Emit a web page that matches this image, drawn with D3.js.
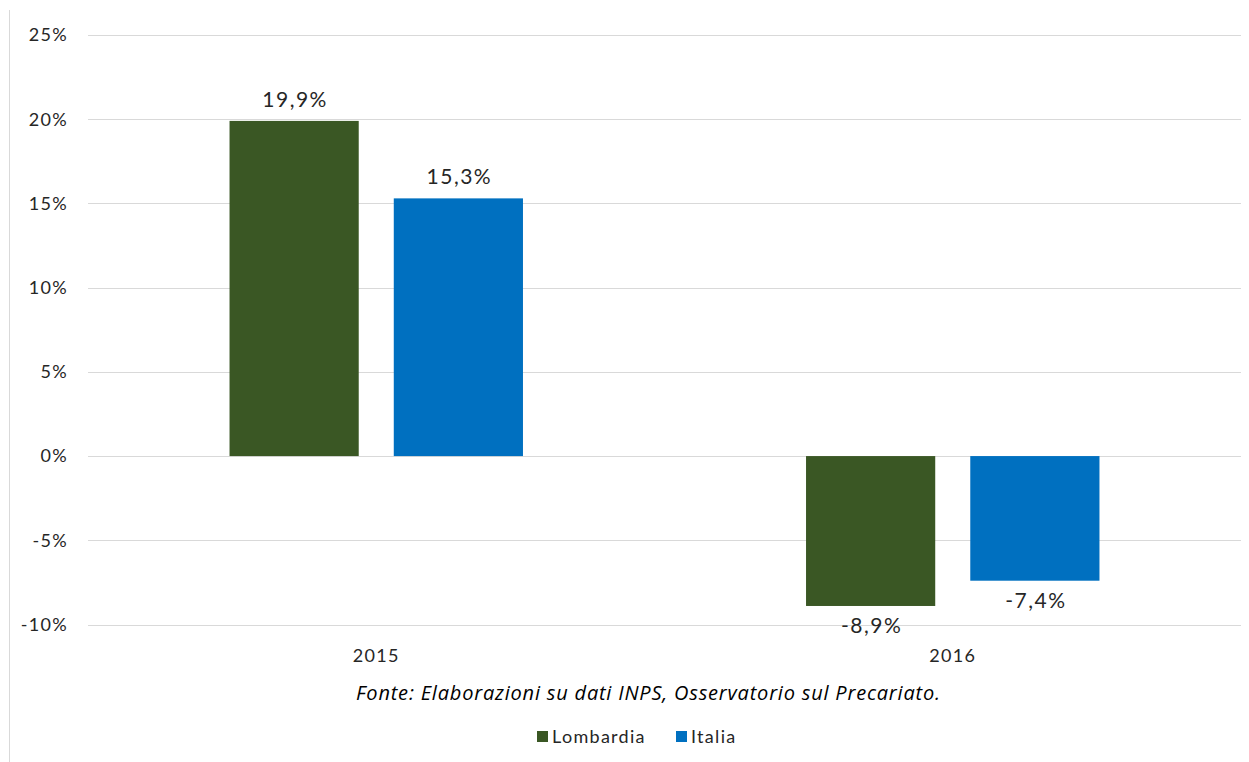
<!DOCTYPE html>
<html>
<head>
<meta charset="utf-8">
<script src="https://cdn.jsdelivr.net/npm/d3@7"></script>
<style>
	body { margin: 0; background: #fff; }
	svg { display: block; }
</style>
</head>
<body>
<div id="graph"></div>
<script>
const years = ['2015', '2016'];
const seriesNames = ['Lombardia', 'Italia'];
const lombardia = [19.9, -8.9];
const italia = [15.3, -7.4];
const yTicks = [-10, -5, 0, 5, 10, 15, 20, 25];
const colors = ['#3a5724', '#0070c0'];
const footnote = 'Fonte: Elaborazioni su dati INPS, Osservatorio sul Precariato.';

const svgWidth = 1249;
const svgHeight = 762;
const plot = {left: 88, right: 1241, top: 35, bottom: 624.5};
const font = 'Lato, "Open Sans", sans-serif';

const svg = d3.select('#graph').append('svg')
	.attr('width', svgWidth)
	.attr('height', svgHeight);

// left border of the chart frame
svg.append('line')
	.attr('x1', 9.5).attr('x2', 9.5)
	.attr('y1', 10).attr('y2', svgHeight)
	.style('stroke', '#d9d9d9');

const yScale = d3.scaleLinear()
	.domain([-10, 25])
	.range([plot.bottom, plot.top]);

const x0 = d3.scaleBand()
	.domain(years)
	.range([plot.left, plot.right])
	.paddingInner(0.491)
	.paddingOuter(0.2455);

const x1 = d3.scaleBand()
	.domain(seriesNames)
	.range([0, x0.bandwidth()])
	.paddingInner(0.2134);

// gridlines
svg.append('g').selectAll('line').data(yTicks).enter()
	.append('line')
	.attr('x1', plot.left).attr('x2', plot.right)
	.attr('y1', d => Math.round(yScale(d)) + 0.5)
	.attr('y2', d => Math.round(yScale(d)) + 0.5)
	.style('stroke', '#d9d9d9');

function label(sel, size, spacing) {
	return sel.style('font-family', font)
		.style('font-size', size + 'px')
		.style('letter-spacing', spacing + 'px')
		.style('fill', '#262626');
}

// y labels
const fmt = v => (v + '').replace('.', ',') + '%';
label(svg.append('g').selectAll('text').data(yTicks).enter()
	.append('text')
	.attr('x', 68)
	.attr('y', d => yScale(d))
	.attr('dy', '0.35em')
	.attr('text-anchor', 'end'), 18, 1.3)
	.text(d => d + '%');

const rows = [];
years.forEach((yr, i) => {
	rows.push({year: yr, name: seriesNames[0], value: lombardia[i], color: colors[0]});
	rows.push({year: yr, name: seriesNames[1], value: italia[i], color: colors[1]});
});

svg.append('g').selectAll('rect').data(rows).enter()
	.append('rect')
	.attr('x', d => x0(d.year) + x1(d.name))
	.attr('width', x1.bandwidth())
	.attr('y', d => yScale(Math.max(0, d.value)))
	.attr('height', d => Math.abs(yScale(d.value) - yScale(0)))
	.style('fill', d => d.color);

// value labels
label(svg.append('g').selectAll('text').data(rows).enter()
	.append('text')
	.attr('x', d => x0(d.year) + x1(d.name) + x1.bandwidth() / 2 + 1)
	.attr('y', d => d.value >= 0 ? yScale(d.value) - 14 : yScale(d.value) + 27)
	.attr('text-anchor', 'middle'), 21, 1.5)
	.text(d => fmt(d.value));

// category labels
label(svg.append('g').selectAll('text').data(years).enter()
	.append('text')
	.attr('x', d => x0(d) + x0.bandwidth() / 2)
	.attr('y', 662)
	.attr('text-anchor', 'middle'), 18, 1.3)
	.text(d => d);

svg.append('text')
	.attr('x', 648)
	.attr('y', 700)
	.attr('text-anchor', 'middle')
	.attr('textLength', 584)
	.attr('lengthAdjust', 'spacing')
	.style('font-family', '"Open Sans", sans-serif')
	.style('font-style', 'italic')
	.style('font-size', '20px')
	.style('fill', '#000')
	.text(footnote);

// legend
const legendX = [537, 676];
const legend = svg.append('g').selectAll('g').data(seriesNames).enter()
	.append('g')
	.attr('transform', (d, i) => `translate(${legendX[i]}, 731)`);
legend.append('rect')
	.attr('width', 11).attr('height', 11)
	.style('fill', (d, i) => colors[i]);
label(legend.append('text')
	.attr('x', 15)
	.attr('y', 6)
	.attr('dy', '0.35em'), 18, 1.3)
	.text(d => d);
</script>
</body>
</html>
